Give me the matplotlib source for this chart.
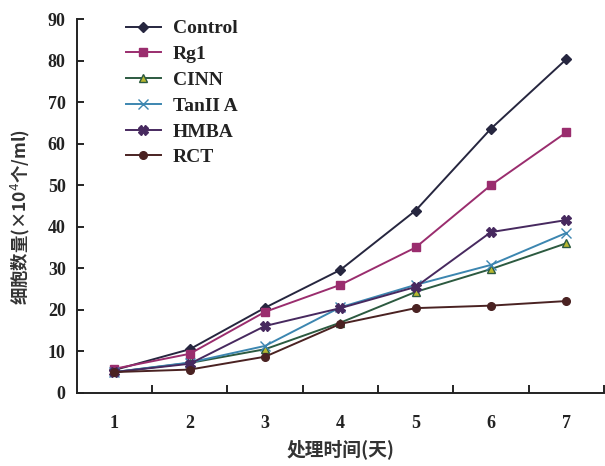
import numpy as np
import matplotlib.pyplot as plt
from matplotlib.ticker import FixedLocator, NullFormatter, FixedFormatter

days = [1, 2, 3, 4, 5, 6, 7]
control = [5.5, 10.5, 20.5, 29.6, 43.9, 63.6, 80.3]
rg1 = [5.8, 9.4, 19.5, 26.0, 35.0, 50.0, 62.7]
cinn = [5.0, 7.2, 10.5, 16.9, 24.3, 29.8, 36.0]
tan2a = [5.0, 7.3, 11.3, 20.6, 26.0, 30.8, 38.5]
hmba = [5.0, 7.0, 16.1, 20.4, 25.5, 38.7, 41.6]
rct = [5.0, 5.6, 8.7, 16.6, 20.4, 21.0, 22.1]

series = [
    ("Control", control, "#26263f", "D", "#26263f", 5),
    ("Rg1", rg1, "#9a2d6e", "s", "#9a2d6e", 5.5),
    ("CINN", cinn, "#2c5a40", "^", "#b8b830", 5.5),
    ("TanII A", tan2a, "#3c86b0", "x", "#3c86b0", 6.5),
    ("HMBA", hmba, "#47295f", "X", "#47295f", 6.5),
    ("RCT", rct, "#4a2222", "o", "#4a2222", 5.5),
]

serif = ["Liberation Serif", "DejaVu Serif"]
cjk = ["Noto Sans CJK SC", "DejaVu Sans"]

fig = plt.figure(figsize=(6.05, 4.66), dpi=100)
ax = fig.add_axes([0.127, 0.157, 0.871, 0.802])

for name, vals, col, mk, fc, ms in series:
    ax.plot(days, vals, color=col, marker=mk, markersize=ms, markerfacecolor=fc,
            markeredgecolor=col, linewidth=1.4, label=name)

ax.set_xlim(0.5, 7.5)
ax.set_ylim(0, 90)
ax.spines["top"].set_visible(False)
ax.spines["right"].set_visible(False)
for s in ("left", "bottom"):
    ax.spines[s].set_linewidth(1.4)
    ax.spines[s].set_color("#222222")

ax.xaxis.set_major_locator(FixedLocator([1.5, 2.5, 3.5, 4.5, 5.5, 6.5, 7.5]))
ax.xaxis.set_major_formatter(NullFormatter())
ax.xaxis.set_minor_locator(FixedLocator(days))
ax.xaxis.set_minor_formatter(FixedFormatter([str(d) for d in days]))
ax.tick_params(axis="x", which="major", direction="in", length=6, width=1.2)
ax.tick_params(axis="x", which="minor", length=0, pad=16)
ax.set_yticks(np.arange(0, 91, 10))
ax.tick_params(axis="y", direction="in", length=5, width=1.2, pad=8)

for lab in ax.get_xticklabels(minor=True) + ax.get_yticklabels():
    lab.set_fontfamily(serif)
    lab.set_fontweight("bold")
    lab.set_fontsize(13)
    lab.set_color("#222222")

ax.set_xlabel("处理时间(天)", family=cjk, fontsize=13.5, fontweight="bold",
              color="#333333")
ax.xaxis.set_label_coords(0.5, -0.125)
ax.set_ylabel("细胞数量(×10$^4$个/ml)", family=cjk, fontsize=12.5,
              fontweight="bold", color="#333333")
ax.yaxis.set_label_coords(-0.085, 0.47)

leg = ax.legend(loc="upper left", bbox_to_anchor=(0.06, 1.045), frameon=False,
                handlelength=1.8, labelspacing=0.42, handletextpad=0.6,
                prop={"family": serif, "weight": "bold", "size": 14})
for t in leg.get_texts():
    t.set_color("#222222")

fig.savefig("out.png", dpi=100)
